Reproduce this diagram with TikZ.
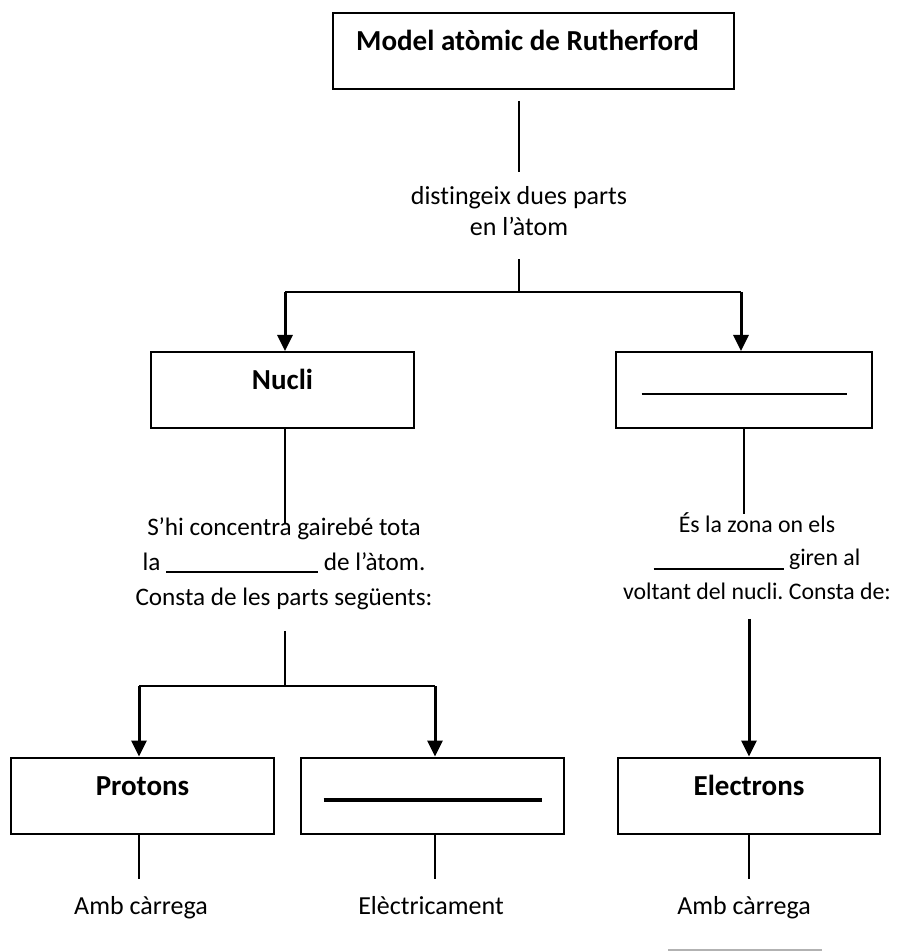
\documentclass[tikz,border=0pt]{standalone}
\usepackage{fontspec}
\setmainfont{Carlito}[Ligatures=NoCommon]
\usetikzlibrary{arrows.meta,positioning}
\frenchspacing

\begin{document}
\begin{tikzpicture}[x=0.5pt,y=-0.5pt,
                    >={Triangle[width=7.5pt,length=8pt]},
                    on grid,
                    font=\fontsize{13pt}{15.5pt}\selectfont]
    \tikzset{
      box/.style={
        draw,
        line width=1pt,
        minimum width=131.5pt,
        minimum height=38pt,
        inner sep=0pt,
        text height=9pt,
        text depth=9.5pt,
        font=\fontsize{14.5pt}{16pt}\selectfont\bfseries
      },
      note/.style={
        align=center,
        inner sep=0pt
      },
      plain/.style={
        -,
        line width=0.8pt
      },
      fork/.style={
        -,
        line width=1pt
      },
      feed/.style={
        ->,
        line width=1.5pt
      }
    }
    \useasboundingbox (0,0) rectangle (896,951);

    % Boxes
    \node [box, minimum width=200.5pt] (model) at (533.5,51) {Model atòmic de Rutherford\hspace*{6pt}};
    \node [box] (nucli)     [below left=169.5pt and 125.5pt of model] {Nucli};
    \node [box, minimum width=128pt] (escorca) [right=230.75pt of nucli] {\rule[-2.75pt]{102.5pt}{1pt}};
    \node [box] (protons)   [below left=202.75pt and 70pt of nucli] {Protons};
    \node [box] (neutrons)  [right=145pt of protons] {\rule[-3.5pt]{109pt}{2pt}};
    \node [box, minimum width=131pt] (electrons) [right=158.25pt of neutrons] {Electrons};

    % Texts
    \node [note, anchor=north] (parts) at (519,186) {distingeix dues parts\\en l’àtom};
    \node [note, anchor=north, font=\fontsize{12.6pt}{17.5pt}\selectfont] (massa) at (284,517)
          {S’hi concentra gairebé tota\\la \rule[-1.5pt]{76pt}{1pt} de l’àtom.\\Consta de les parts següents:};
    \node [note, anchor=north, font=\fontsize{11.9pt}{16.75pt}\selectfont] (zona) at (757,512)
          {És la zona on els\\\rule[-2pt]{65pt}{1pt} giren al\\voltant del nucli. Consta de:};
    \node [note, anchor=base] (carregaP) at (141,914) {Amb càrrega};
    \node [note, anchor=base] (neutre)   at (431,914) {Elèctricament};
    \node [note, anchor=base] (carregaE) at (744,914) {Amb càrrega};

    % Forks
    \coordinate (forkA) at (285,292);
    \coordinate (forkB) at (741,292);
    \coordinate (forkC) at (139,686);
    \coordinate (forkD) at (435,686);

    % Model -> Nucli / escorca
    \draw [plain, shorten <=5.5pt, shorten >=7pt] (parts |- model.south) -- (parts.north);
    \draw [plain, shorten <=11.5pt] (parts.south) -- (parts |- forkA);
    \draw [fork] (forkA) -- (forkB);
    \draw [feed] (forkA) -- (forkA |- nucli.north);
    \draw [feed] (forkB) -- (forkB |- escorca.north);

    % Nucli -> Protons / neutrons
    \draw [plain, shorten >=-3.5pt] (forkA |- nucli.south) -- (forkA |- massa.north);
    \draw [plain, shorten <=10.5pt] (forkA |- massa.south) -- (forkA |- forkC);
    \draw [fork] (forkC) -- (forkD);
    \draw [feed] (forkC) -- (forkC |- protons.north);
    \draw [feed] (forkD) -- (forkD |- neutrons.north);

    % escorca -> Electrons
    \draw [plain, shorten >=-1pt] (escorca.south) -- (escorca.south |- zona.north);
    \draw [feed, shorten <=9.5pt] (electrons.north |- zona.south) -- (electrons.north);

    % Properties
    \draw [plain, shorten >=8.5pt] (forkC |- protons.south) -- (forkC |- carregaP.north);
    \draw [plain, shorten >=8.5pt] (forkD |- neutrons.south) -- (forkD |- neutre.north);
    \draw [plain, shorten >=8.5pt] (electrons.south) -- (electrons.south |- carregaE.north);
    \draw [gray!60, line width=1pt] (668,950) -- (822,950);
\end{tikzpicture}
\end{document}
